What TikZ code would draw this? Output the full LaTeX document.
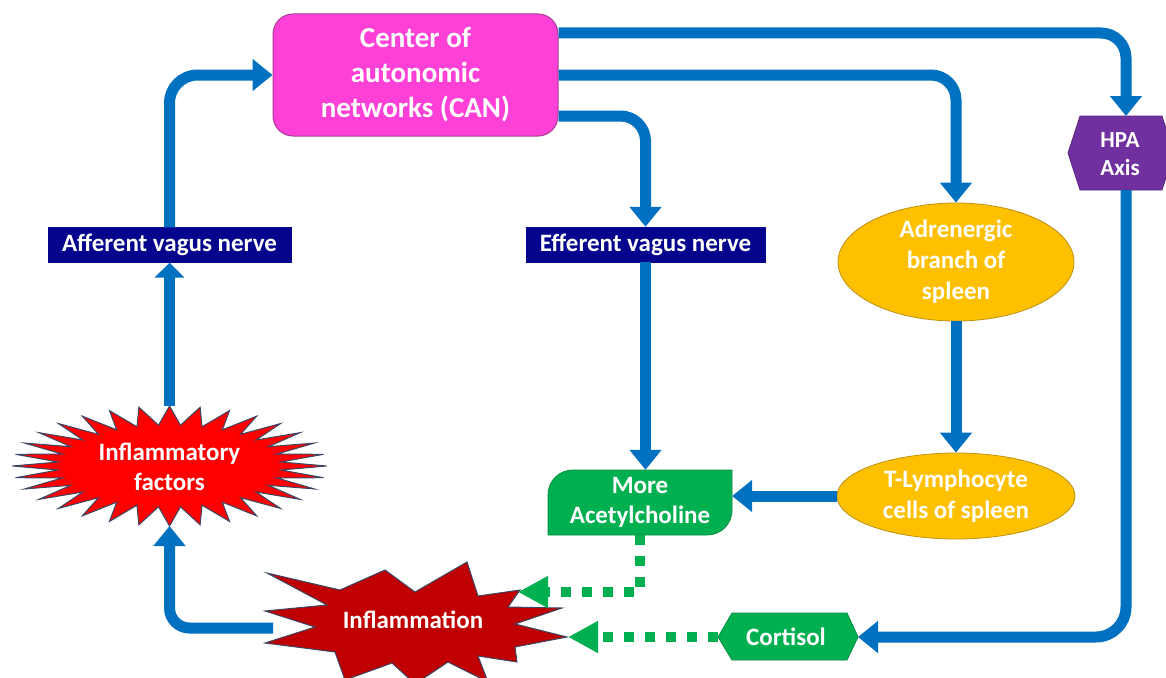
\documentclass[tikz,border=0pt]{standalone}
\usepackage{fontspec}
\setmainfont{Carlito}
\usetikzlibrary{arrows.meta,shapes.geometric,calc}
\definecolor{canpink}{RGB}{255,64,214}
\definecolor{canborder}{RGB}{170,60,150}
\definecolor{navybox}{RGB}{4,4,140}
\definecolor{arrowblue}{RGB}{0,112,192}
\definecolor{gold}{RGB}{255,192,0}
\definecolor{goldborder}{RGB}{190,145,20}
\definecolor{hpapurple}{RGB}{112,48,160}
\definecolor{ggreen}{RGB}{0,176,80}
\definecolor{infred}{RGB}{255,0,0}
\definecolor{darkred}{RGB}{192,0,0}
\definecolor{starborder}{RGB}{60,70,100}
\begin{document}
\begin{tikzpicture}[x=1pt,y=-1pt,
  txt/.style={text=white, font=\fontsize{25}{30}\selectfont\bfseries, align=center, inner sep=0pt},
  blueline/.style={draw=arrowblue, line width=11pt, rounded corners=25pt, -{Triangle[length=20pt,width=31pt]}},
  greenline/.style={draw=ggreen, line width=10pt, dash pattern=on 10pt off 11pt, -{Triangle[length=30pt,width=30pt]}},
  navyrect/.style={rectangle, fill=navybox, draw=navybox, minimum height=35pt, inner sep=0pt},
  goldell/.style={ellipse, fill=gold, draw=goldborder, line width=0.8pt, inner sep=0pt},
  greenshape/.style={fill=ggreen, draw=ggreen!80!black, line width=0.8pt},
  starshape/.style={draw=starborder, line width=1pt}
]
\useasboundingbox (0,0) rectangle (1166,677);

% ---------- shapes ----------
% CAN
\node[txt, rectangle, rounded corners=20pt, fill=canpink, draw=canborder, line width=1pt,
      minimum width=285pt, minimum height=122pt, font=\fontsize{29}{35}\selectfont\bfseries] (can) at (415.5,75)
      {Center of\\autonomic\\networks (CAN)};

% vagus nerve boxes
\node[txt, navyrect, minimum width=243pt] (aff) at (169.5,245) {Afferent vagus nerve};
\node[txt, navyrect, minimum width=239pt] (eff) at (645.5,244.5) {Efferent vagus nerve};

% spleen ellipses
\node[txt, goldell, minimum width=236pt, minimum height=114pt, font=\fontsize{25}{31}\selectfont\bfseries] (adr) at (956,262)
      {Adrenergic\\branch of\\spleen};
\node[txt, goldell, minimum width=238pt, minimum height=86pt, font=\fontsize{25}{31}\selectfont\bfseries] (tly) at (956,496)
      {T-Lymphocyte\\cells of spleen};

% HPA hexagon
\path[fill=hpapurple, draw=hpapurple!80!black, line width=0.8pt]
  (1068,153) -- (1080,116) -- (1162,116) -- (1174,153) -- (1162,190) -- (1080,190) -- cycle;
\node[txt, font=\fontsize{23}{28}\selectfont\bfseries] (hpa) at (1120,154) {HPA\\Axis};
\coordinate (hpaN) at (1126,116);
\coordinate (hpaS) at (1126,190);

% More Acetylcholine
\path[greenshape] (548,535) -- (548,495) .. controls (548,481) and (559,470) .. (573,470)
  -- (732,470) -- (732,510) .. controls (732,524) and (721,535) .. (707,535) -- cycle;
\node[txt, minimum width=184pt, minimum height=65pt] (mach) at (640,502.5) {More\\Acetylcholine};

% Cortisol
\path[greenshape] (718,637) -- (732,613) -- (847,613) -- (858,637) -- (847,660) -- (732,660) -- cycle;
\node[txt] (cort) at (786,637) {Cortisol};
\coordinate (cortE) at (858,637);
\coordinate (cortW) at (718,637);

% Inflammatory factors star
\path[starshape, fill=infred] plot[variable=\k, samples at={0,...,63}]
  ({169.5+(iseven(\k)?157:112)*cos(\k*5.625)}, {466+(iseven(\k)?60:41)*sin(\k*5.625)}) -- cycle;
\node[txt] (inff) at (169.5,467) {Inflammatory\\factors};
\coordinate (ifTop) at (169.5,406);
\coordinate (ifBot) at (169.5,526);

% Inflammation explosion
\path[starshape, fill=darkred]
  (267,573) -- (340,590) -- (385,570) -- (415,592) -- (467,562) -- (478,596) -- (520,590)
  -- (508,607) -- (562,608) -- (515,624) -- (567,637) -- (515,647) -- (517,662) -- (478,656)
  -- (488,682) -- (448,662) -- (415,684) -- (392,663) -- (345,680) -- (335,652) -- (265,643)
  -- (315,627) -- (265,611) -- (327,605) -- cycle;
\node[txt] (infl) at (413,620) {Inflammation};
\coordinate (inflL) at (273,628);
\coordinate (achTip) at (518,592);
\coordinate (cortTip) at (568,637);

% ---------- connectors ----------
\draw[blueline, rounded corners=28pt] (aff.north) |- (can.west);
\draw[blueline] ([yshift=42pt]can.east) -| (hpaN);
\draw[blueline] (can.east) -| (adr.north);
\draw[blueline] ([yshift=-41pt]can.east) -| (eff.north);
\draw[blueline] (eff.south) -- (eff.south |- mach.north);
\draw[blueline] (adr.south) -- (tly.north);
\draw[blueline] (tly.west) -- (tly.west -| mach.east);
\draw[blueline, rounded corners=30pt] (hpaS) |- (cortE);
\draw[blueline, -{Triangle[length=15pt,width=29pt]}] (ifTop) -- (aff.south);
\draw[blueline, rounded corners=20pt] (inflL) -| (ifBot);

\draw[greenline] (mach.south) |- (achTip);
\draw[greenline] (cortW) -- (cortTip);
\end{tikzpicture}
\end{document}
